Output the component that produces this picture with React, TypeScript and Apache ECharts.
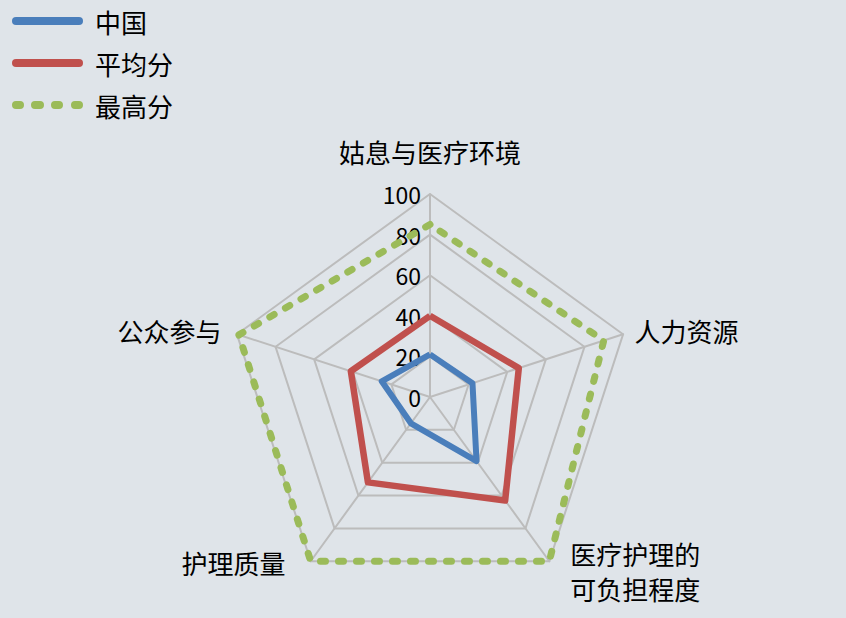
import React, { useEffect, useRef } from "react";
import * as echarts from "echarts";

// Indicators listed in ECharts' drawing order (counter-clockwise from the top)
const indicatorNames = ["姑息与医疗环境", "公众参与", "护理质量", "医疗护理的\n可负担程度", "人力资源"];
const indicatorMax = [100, 100, 100, 100, 100];
const seriesNames = ["中国", "平均分", "最高分"];
const chinaValues = [21, 25, 16, 39, 22];
const averageValues = [40, 41, 52, 63, 46];
const maxValues = [85, 99, 100, 100, 90];
const colors = ["#4A7EBB", "#C0504D", "#9BBB59"];

const solidIcon = "path://M4,0 L67,0 A4,4 0 0 1 67,8 L4,8 A4,4 0 0 1 4,0 Z";
const dottedIcon =
  "path://M4,0 L8,0 A4,4 0 0 1 8,8 L4,8 A4,4 0 0 1 4,0 Z M23,0 L28,0 A4,4 0 0 1 28,8 L23,8 A4,4 0 0 1 23,0 Z M43,0 L47,0 A4,4 0 0 1 47,8 L43,8 A4,4 0 0 1 43,0 Z M63,0 L67,0 A4,4 0 0 1 67,8 L63,8 A4,4 0 0 1 63,0 Z";

export default function App() {
  const ref = useRef<HTMLDivElement>(null);
  useEffect(() => {
    if (!ref.current) return;
    const chart = echarts.init(ref.current, null, { renderer: "svg" });
    const font = "'Noto Sans CJK SC', 'Noto Sans', sans-serif";
    const richKeys = ["t", "l", "bl", "br", "r"];
    chart.setOption({
      animation: false,
      backgroundColor: "#DFE4E9",
      textStyle: { fontFamily: font },
      legend: {
        orient: "vertical",
        left: 12,
        top: 8,
        padding: 0,
        itemWidth: 71,
        itemHeight: 8,
        itemGap: 16,
        textStyle: { fontSize: 26, color: "#000", fontFamily: font, padding: [0, 0, 0, 7] },
        data: [
          { name: seriesNames[0], icon: solidIcon },
          { name: seriesNames[1], icon: solidIcon },
          { name: seriesNames[2], icon: dottedIcon },
        ],
      },
      radar: {
        center: [430, 397],
        radius: 203,
        startAngle: 90,
        shape: "polygon",
        splitNumber: 5,
        nameGap: 12,
        axisName: {
          color: "#000",
          fontSize: 26,
          fontFamily: font,
          formatter: (name: string) => {
            const i = indicatorNames.indexOf(name);
            return name
              .split("\n")
              .map((s) => `{${richKeys[i]}|${s}}`)
              .join("\n");
          },
          rich: {
            t: { fontSize: 26, color: "#000", padding: [0, 0, 18, 0] },
            r: { fontSize: 26, color: "#000", padding: [0, 0, 0, 0] },
            br: { fontSize: 26, color: "#000", lineHeight: 35, padding: [0, 0, 0, 14] },
            bl: { fontSize: 26, color: "#000", padding: [0, 18, 16, 0] },
            l: { fontSize: 26, color: "#000", padding: [0, 4, 0, 0] },
          },
        },
        axisLine: { lineStyle: { color: "#BCBCBC", width: 2 } },
        splitLine: { lineStyle: { color: "#BCBCBC", width: 2 } },
        splitArea: { show: false },
        axisLabel: { show: false },
        indicator: indicatorNames.map((n, i) =>
          i === 0
            ? {
                name: n,
                max: indicatorMax[i],
                min: 0,
                axisLabel: { show: true, color: "#000", fontSize: 23, fontFamily: font, margin: 9 },
              }
            : { name: n, max: indicatorMax[i], min: 0 }
        ),
      },
      series: [
        {
          type: "radar",
          symbol: "none",
          data: [
            {
              name: seriesNames[0],
              value: chinaValues,
              itemStyle: { color: colors[0] },
              lineStyle: { color: colors[0], width: 6 },
            },
            {
              name: seriesNames[1],
              value: averageValues,
              itemStyle: { color: colors[1] },
              lineStyle: { color: colors[1], width: 6.5 },
            },
            {
              name: seriesNames[2],
              value: maxValues,
              itemStyle: { color: colors[2] },
              lineStyle: { color: colors[2], width: 7, type: [5, 13], cap: "round", join: "round" },
            },
          ],
        },
      ],
    });
    return () => chart.dispose();
  }, []);
  return <div ref={ref} style={{ width: 846, height: 618, position: "absolute", left: 0, top: 0 }} />;
}
